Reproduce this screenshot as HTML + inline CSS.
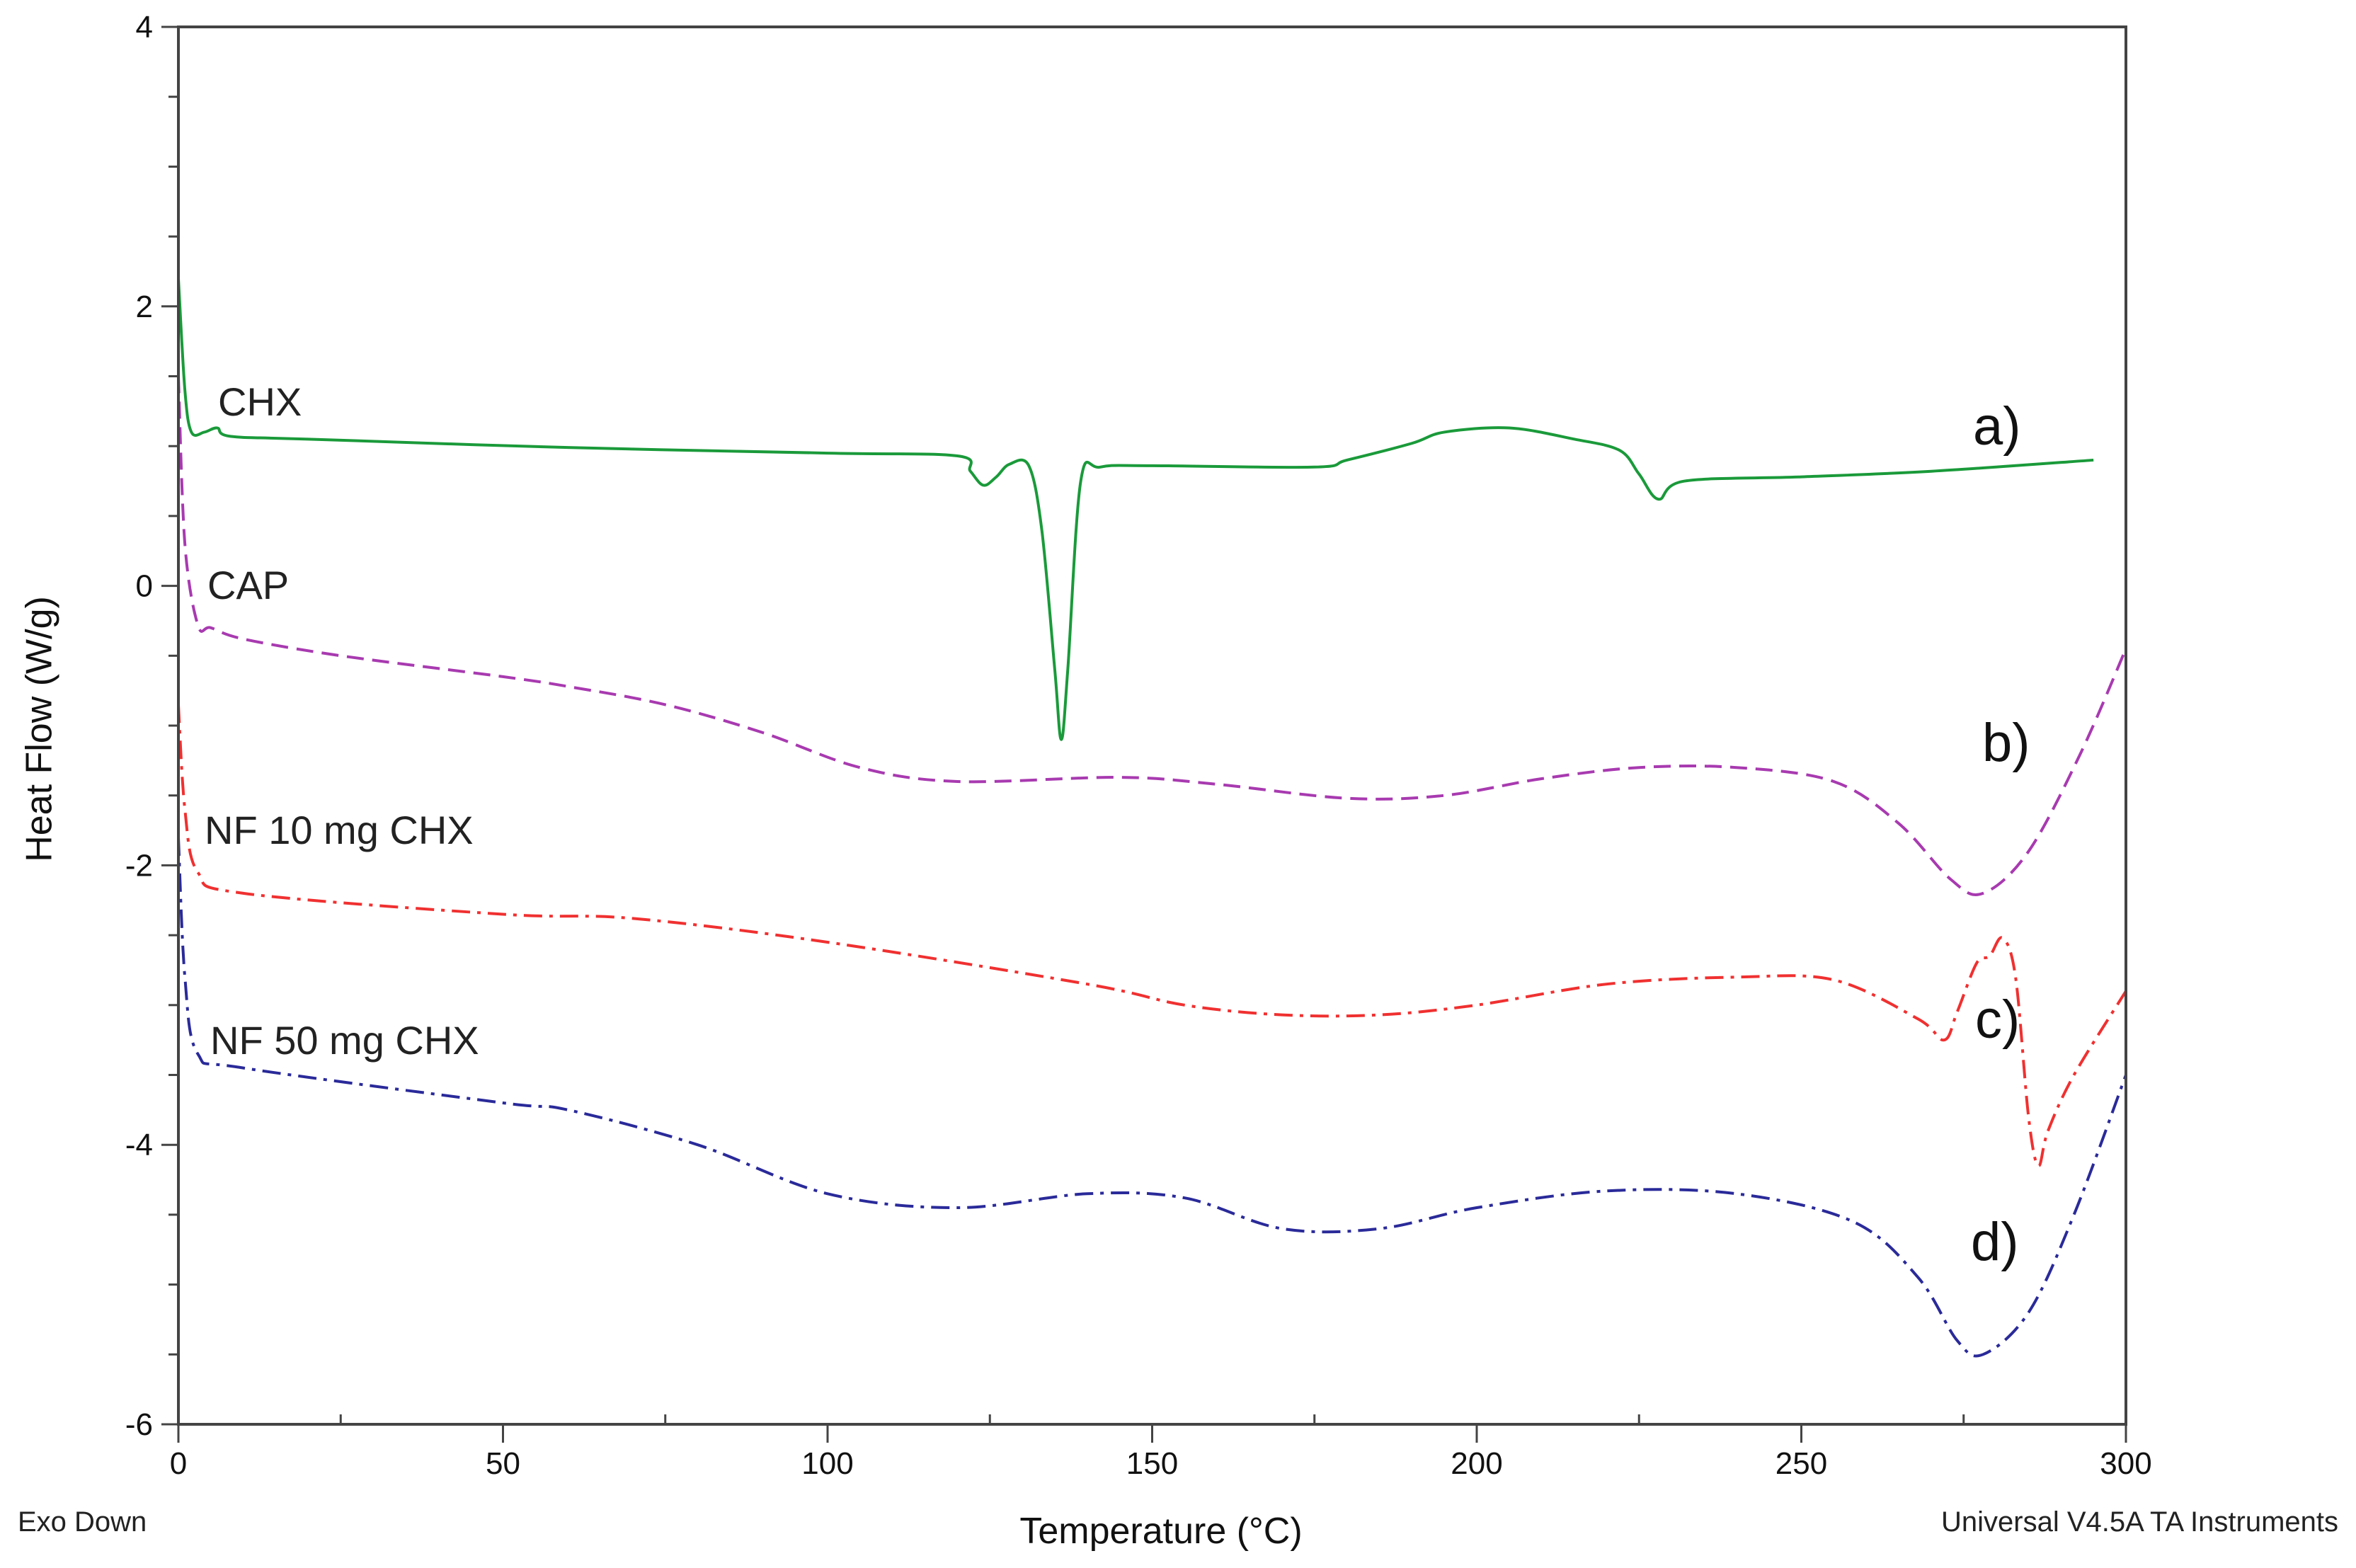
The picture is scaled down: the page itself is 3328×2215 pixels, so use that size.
<!DOCTYPE html>
<html><head><meta charset="utf-8"><style>
html,body{margin:0;padding:0;background:#fff;}
svg{display:block;font-family:"Liberation Sans",sans-serif;}
</style></head><body>
<svg id="chart" width="3328" height="2215" viewBox="0 0 3328 2215">
<rect x="0" y="0" width="3328" height="2215" fill="#fff"/>
<g id="series"></g>
<g id="axes"></g>
<text x="308" y="587" font-size="56" fill="#222">CHX</text>
<text x="293" y="846" font-size="56" fill="#222">CAP</text>
<text x="289" y="1192" font-size="56" fill="#222">NF 10 mg CHX</text>
<text x="297" y="1489" font-size="56" fill="#222">NF 50 mg CHX</text>
<text x="2787" y="628" font-size="76" fill="#111">a)</text>
<text x="2800" y="1075" font-size="76" fill="#111">b)</text>
<text x="2790" y="1466" font-size="76" fill="#111">c)</text>
<text x="2784" y="1780" font-size="76" fill="#111">d)</text>
<text x="59" y="1030" font-size="52" fill="#111" text-anchor="middle" transform="rotate(-90 59 1030)" dominant-baseline="middle">Heat Flow (W/g)</text>
<text x="1640" y="2180" font-size="52" fill="#111" text-anchor="middle">Temperature (°C)</text>
<text x="25" y="2163" font-size="40" fill="#222">Exo Down</text>
<text x="3303" y="2163" font-size="40" fill="#222" text-anchor="end">Universal V4.5A TA Instruments</text>
</svg>
<script>
const xTicks=[0,50,100,150,200,250,300];
const yTicks=[4,2,0,-2,-4,-6];
const chxT=[0,1,2,4,6,8,20,60,100,120,122,124,126,128,131,133,135,136,137,139,142,150,175,180,190,195,205,215,222,225,228,232,250,270,295];
const chxV=[2.2,1.4,1.1,1.1,1.13,1.07,1.05,0.99,0.95,0.93,0.82,0.72,0.78,0.87,0.86,0.4,-0.6,-1.1,-0.6,0.75,0.85,0.86,0.85,0.9,1.02,1.1,1.13,1.05,0.97,0.8,0.62,0.75,0.78,0.82,0.9];
const capT=[0,1,3,5,10,25,50,60,75,90,105,120,145,160,180,195,210,225,240,255,265,273,278,285,293,300];
const capV=[1.5,0.3,-0.28,-0.3,-0.38,-0.5,-0.65,-0.72,-0.85,-1.05,-1.3,-1.4,-1.37,-1.42,-1.52,-1.5,-1.38,-1.3,-1.3,-1.4,-1.7,-2.1,-2.2,-1.9,-1.2,-0.45];
const nf10T=[0,1,3,10,50,70,100,140,155,170,185,200,220,240,255,268,272,274,277,279,281,283,285,286.5,288,292,300];
const nf10V=[-0.85,-1.6,-2.05,-2.2,-2.35,-2.38,-2.55,-2.85,-3.0,-3.07,-3.07,-3.0,-2.85,-2.8,-2.82,-3.1,-3.25,-3.05,-2.7,-2.65,-2.52,-2.8,-3.8,-4.15,-3.9,-3.5,-2.9];
const nf50T=[0,1,3,10,50,60,80,100,120,140,155,170,185,200,220,240,258,268,274,278,285,292,300];
const nf50V=[-1.8,-2.8,-3.35,-3.45,-3.7,-3.75,-4.0,-4.35,-4.45,-4.35,-4.38,-4.6,-4.6,-4.45,-4.33,-4.35,-4.55,-4.95,-5.4,-5.5,-5.2,-4.5,-3.5];

const X0=252,X1=3003,Y0=38,Y1=2012;
function sx(t){return X0+(t-0)/(300-0)*(X1-X0);}
function sy(v){return Y1-(v-(-6))/(4-(-6))*(Y1-Y0);}
const NS='http://www.w3.org/2000/svg';
function mk(tag,attrs,parent){const e=document.createElementNS(NS,tag);for(const k in attrs)e.setAttribute(k,attrs[k]);parent.appendChild(e);return e;}
function pathFrom(T,V){
  const p=T.map((t,i)=>[sx(t),sy(V[i])]);
  let d='M'+p[0][0]+','+p[0][1];
  for(let i=0;i<p.length-1;i++){
    const p0=p[i-1]||p[i],p1=p[i],p2=p[i+1],p3=p[i+2]||p2;
    const c1=[p1[0]+(p2[0]-p0[0])/6,p1[1]+(p2[1]-p0[1])/6];
    const c2=[p2[0]-(p3[0]-p1[0])/6,p2[1]-(p3[1]-p1[1])/6];
    d+=' C'+c1[0]+','+c1[1]+' '+c2[0]+','+c2[1]+' '+p2[0]+','+p2[1];
  }
  return d;
}
const sg=document.getElementById('series');
const ag=document.getElementById('axes');

let e;
e=mk('path',{d:pathFrom(chxT,chxV),fill:'none',stroke:'#1a9a3a','stroke-width':4},sg);


e=mk('path',{d:pathFrom(capT,capV),fill:'none',stroke:'#a83ab0','stroke-width':4,'stroke-dasharray':'24 12'},sg);


e=mk('path',{d:pathFrom(nf10T,nf10V),fill:'none',stroke:'#f03030','stroke-width':4,'stroke-dasharray':'26 10 5 10'},sg);


e=mk('path',{d:pathFrom(nf50T,nf50V),fill:'none',stroke:'#2a2a9a','stroke-width':4,'stroke-dasharray':'26 10 5 10'},sg);



e=mk('rect',{x:X0,y:Y0,width:X1-X0,height:Y1-Y0,fill:'none',stroke:'#444','stroke-width':4},ag);



for(let t=0;t<=300;t+=25){
  const major=t%50===0;
  e=mk('line',{x1:sx(t),x2:sx(t),y1:Y1-(major?0:14),y2:Y1+(major?26:0),stroke:'#444','stroke-width':3},ag);
  
  
}
xTicks.forEach(t=>{
  e=mk('text',{x:sx(t),y:Y1+70,'font-size':44,'text-anchor':'middle',fill:'#111'},ag);
  e.textContent=t;
  
  
});
for(let v=-6;v<=4;v+=0.5){
  const major=Math.abs(v%2)<1e-9;
  e=mk('line',{x1:X0-(major?24:14),x2:X0,y1:sy(v),y2:sy(v),stroke:'#444','stroke-width':3},ag);
  
  
}
yTicks.forEach(v=>{
  e=mk('text',{x:X0-36,y:sy(v)+15,'font-size':44,'text-anchor':'end',fill:'#111'},ag);
  e.textContent=v;
  
  
});
</script>
</body></html>
